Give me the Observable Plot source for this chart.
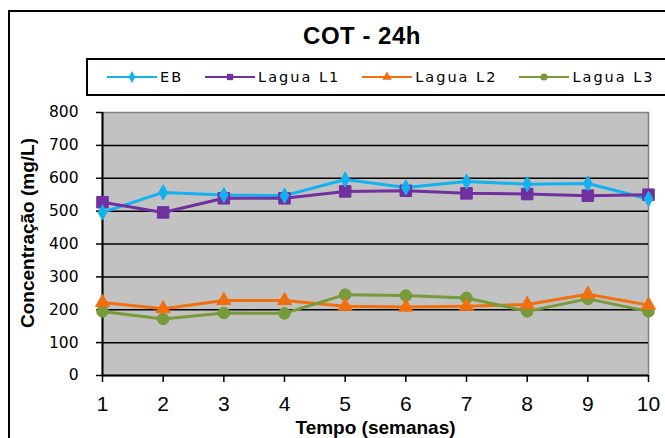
<!DOCTYPE html>
<html>
<head>
<meta charset="utf-8">
<script src="https://cdn.jsdelivr.net/npm/d3@7"></script>
<script src="https://cdn.jsdelivr.net/npm/@observablehq/plot@0.6"></script>
<style>
  html, body { margin: 0; padding: 0; background: #fff; }
  body { width: 665px; height: 438px; overflow: hidden; position: relative; font-family: "Liberation Sans", Arial, sans-serif; }
  #border { position: absolute; left: 8px; top: 10px; width: 720px; height: 500px; border: 2px solid #000; box-sizing: border-box; }
  #title { position: absolute; left: 0; width: 724px; top: 22px; text-align: center; font-weight: bold; font-size: 24px; line-height: 28px; letter-spacing: 0.5px; color: #000; }
  #legend { position: absolute; left: 86px; top: 58px; width: 620px; height: 38px; border: 2px solid #000; box-sizing: border-box; display: flex; align-items: center; padding-left: 19px; gap: 22px; }
  .item { display: flex; align-items: center; }
  .item span { font-family: "DejaVu Sans", sans-serif; font-size: 14.5px; letter-spacing: 2px; margin-left: 3px; color: #000; }
  #chart { position: absolute; left: 0; top: 0; }
</style>
</head>
<body>
<div id="border"></div>
<div id="chart"></div>
<div id="title">COT - 24h</div>
<div id="legend"></div>
<script>
const weeks = [1, 2, 3, 4, 5, 6, 7, 8, 9, 10];
const seriesNames = ["EB", "Lagua L1", "Lagua L2", "Lagua L3"];
const eb = [496, 557, 549, 547, 596, 572, 590, 582, 584, 537];
const lagua1 = [527, 496, 539, 539, 560, 562, 554, 552, 547, 550];
const lagua2 = [222, 203, 228, 228, 211, 208, 211, 216, 247, 214];
const lagua3 = [195, 172, 190, 189, 246, 243, 236, 195, 233, 195];
const yTicks = [0, 100, 200, 300, 400, 500, 600, 700, 800];
const colors = ["#12b2f0", "#7030a0", "#f0700f", "#779a3a"];
const symbols = ["diamond", "square", "triangle", "circle"];
const markerRadius = [4.6, 6.5, 5.2, 5.8];
const yTitle = "Concentração (mg/L)";
const xTitle = "Tempo (semanas)";

const seriesValues = [eb, lagua1, lagua2, lagua3];
const data = seriesNames.flatMap((name, s) =>
  weeks.map((w, i) => ({ week: w, value: seriesValues[s][i], series: name, idx: s }))
);

const chart = Plot.plot({
  width: 665,
  height: 438,
  marginTop: 112,
  marginBottom: 63,
  marginLeft: 102,
  marginRight: 17,
  style: { background: "transparent", fontFamily: "DejaVu Sans, sans-serif", color: "#000" },
  x: { domain: [1, 10] },
  y: { domain: [0, 800] },
  r: { type: "identity" },
  color: { domain: seriesNames, range: colors },
  symbol: { domain: seriesNames, range: symbols },
  marks: [
    Plot.frame({ fill: "#c2c2c2", stroke: "#808080", strokeWidth: 1.5 }),
    Plot.gridY(yTicks.slice(1, -1), { stroke: "#000", strokeOpacity: 1, strokeWidth: 1.5 }),
    Plot.ruleX([1], { stroke: "#000", strokeWidth: 2 }),
    Plot.ruleY([0], { stroke: "#000", strokeWidth: 2 }),
    Plot.axisY(yTicks, { tickSize: 6, tickPadding: 18, fontSize: 15.5, letterSpacing: 1, label: null, stroke: "#000", strokeWidth: 1.5 }),
    Plot.axisX(weeks, { tickSize: 7, tickPadding: 14, fontSize: 21, fontFamily: "Liberation Sans, sans-serif", label: null, tickFormat: d => String(d), stroke: "#000", strokeWidth: 1.5 }),
    Plot.axisY([], { label: yTitle, labelAnchor: "center", labelArrow: "none", labelOffset: 82, fontSize: 19, letterSpacing: 0.4, fontWeight: "bold", fontFamily: "Liberation Sans, sans-serif" }),
    Plot.axisX([], { label: xTitle, labelAnchor: "center", labelArrow: "none", labelOffset: 58, fontSize: 19, fontWeight: "bold", fontFamily: "Liberation Sans, sans-serif" }),
    Plot.line(data, { x: "week", y: "value", z: "series", stroke: "series", strokeWidth: 3 }),
    Plot.dot(data, { x: "week", y: "value", symbol: "series", fill: "series", stroke: "series", strokeWidth: 1, r: d => markerRadius[d.idx] })
  ]
});
document.getElementById("chart").appendChild(chart);

// shift the rotated y-axis title upward as in the reference
d3.select(chart).selectAll("text")
  .filter(function () { return this.textContent === yTitle; })
  .each(function () {
    const t = this.getAttribute("transform") || "";
    this.setAttribute("transform", "translate(0,-11) " + t);
  });

// Legend (HTML)
const legend = d3.select("#legend");
const symTypes = { diamond: d3.symbolDiamond, square: d3.symbolSquare, triangle: d3.symbolTriangle, circle: d3.symbolCircle };
seriesNames.forEach((name, i) => {
  const item = legend.append("div").attr("class", "item");
  const svg = item.append("svg").attr("width", 50).attr("height", 14);
  svg.append("line").attr("x1", 0).attr("x2", 50).attr("y1", 7).attr("y2", 7)
    .attr("stroke", colors[i]).attr("stroke-width", 2);
  svg.append("path").attr("transform", "translate(25,7)")
    .attr("d", d3.symbol(symTypes[symbols[i]], 40)())
    .attr("fill", colors[i]);
  item.append("span").text(name);
});
</script>
</body>
</html>
